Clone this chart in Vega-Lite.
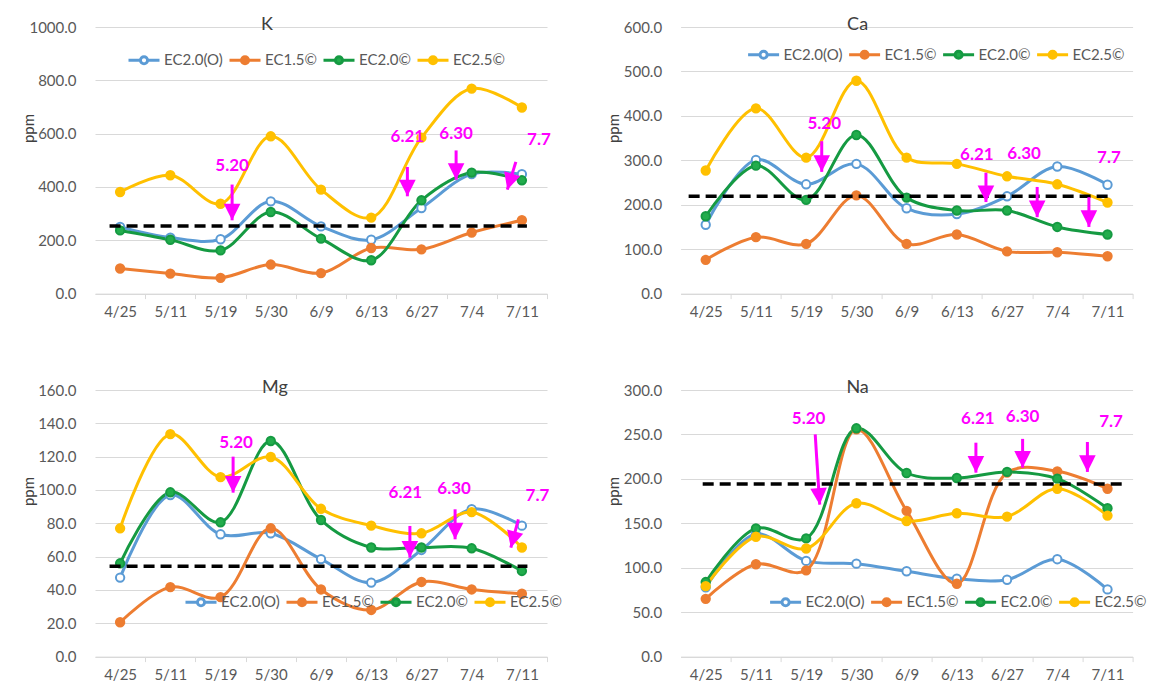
{
"$schema": "https://vega.github.io/schema/vega-lite/v6.json",
"padding": {"left": 21, "top": 16, "right": 5, "bottom": 5},
"columns": 2,
"bounds": "flush",
"spacing": {"row": 96, "column": 133.6},
"datasets": {
"series": [
{"p":"K","s":"EC2.0(O)","i":0,"d":"4/25","v":250},{"p":"K","s":"EC2.0(O)","i":1,"d":"5/11","v":210},{"p":"K","s":"EC2.0(O)","i":2,"d":"5/19","v":204},{"p":"K","s":"EC2.0(O)","i":3,"d":"5/30","v":346},{"p":"K","s":"EC2.0(O)","i":4,"d":"6/9","v":252},{"p":"K","s":"EC2.0(O)","i":5,"d":"6/13","v":202},{"p":"K","s":"EC2.0(O)","i":6,"d":"6/27","v":321},{"p":"K","s":"EC2.0(O)","i":7,"d":"7/4","v":448},{"p":"K","s":"EC2.0(O)","i":8,"d":"7/11","v":448},
{"p":"K","s":"EC1.5©","i":0,"d":"4/25","v":94},{"p":"K","s":"EC1.5©","i":1,"d":"5/11","v":75},{"p":"K","s":"EC1.5©","i":2,"d":"5/19","v":59},{"p":"K","s":"EC1.5©","i":3,"d":"5/30","v":109},{"p":"K","s":"EC1.5©","i":4,"d":"6/9","v":77},{"p":"K","s":"EC1.5©","i":5,"d":"6/13","v":171},{"p":"K","s":"EC1.5©","i":6,"d":"6/27","v":166},{"p":"K","s":"EC1.5©","i":7,"d":"7/4","v":229},{"p":"K","s":"EC1.5©","i":8,"d":"7/11","v":275},
{"p":"K","s":"EC2.0©","i":0,"d":"4/25","v":237},{"p":"K","s":"EC2.0©","i":1,"d":"5/11","v":202},{"p":"K","s":"EC2.0©","i":2,"d":"5/19","v":162},{"p":"K","s":"EC2.0©","i":3,"d":"5/30","v":306},{"p":"K","s":"EC2.0©","i":4,"d":"6/9","v":206},{"p":"K","s":"EC2.0©","i":5,"d":"6/13","v":125},{"p":"K","s":"EC2.0©","i":6,"d":"6/27","v":350},{"p":"K","s":"EC2.0©","i":7,"d":"7/4","v":454},{"p":"K","s":"EC2.0©","i":8,"d":"7/11","v":425},
{"p":"K","s":"EC2.5©","i":0,"d":"4/25","v":381},{"p":"K","s":"EC2.5©","i":1,"d":"5/11","v":444},{"p":"K","s":"EC2.5©","i":2,"d":"5/19","v":337},{"p":"K","s":"EC2.5©","i":3,"d":"5/30","v":590},{"p":"K","s":"EC2.5©","i":4,"d":"6/9","v":390},{"p":"K","s":"EC2.5©","i":5,"d":"6/13","v":285},{"p":"K","s":"EC2.5©","i":6,"d":"6/27","v":585},{"p":"K","s":"EC2.5©","i":7,"d":"7/4","v":769},{"p":"K","s":"EC2.5©","i":8,"d":"7/11","v":698},
{"p":"Ca","s":"EC2.0(O)","i":0,"d":"4/25","v":155},{"p":"Ca","s":"EC2.0(O)","i":1,"d":"5/11","v":301},{"p":"Ca","s":"EC2.0(O)","i":2,"d":"5/19","v":246},{"p":"Ca","s":"EC2.0(O)","i":3,"d":"5/30","v":292},{"p":"Ca","s":"EC2.0(O)","i":4,"d":"6/9","v":192},{"p":"Ca","s":"EC2.0(O)","i":5,"d":"6/13","v":179},{"p":"Ca","s":"EC2.0(O)","i":6,"d":"6/27","v":219},{"p":"Ca","s":"EC2.0(O)","i":7,"d":"7/4","v":286},{"p":"Ca","s":"EC2.0(O)","i":8,"d":"7/11","v":245},
{"p":"Ca","s":"EC1.5©","i":0,"d":"4/25","v":76},{"p":"Ca","s":"EC1.5©","i":1,"d":"5/11","v":127},{"p":"Ca","s":"EC1.5©","i":2,"d":"5/19","v":112},{"p":"Ca","s":"EC1.5©","i":3,"d":"5/30","v":221},{"p":"Ca","s":"EC1.5©","i":4,"d":"6/9","v":112},{"p":"Ca","s":"EC1.5©","i":5,"d":"6/13","v":133},{"p":"Ca","s":"EC1.5©","i":6,"d":"6/27","v":95},{"p":"Ca","s":"EC1.5©","i":7,"d":"7/4","v":93},{"p":"Ca","s":"EC1.5©","i":8,"d":"7/11","v":84},
{"p":"Ca","s":"EC2.0©","i":0,"d":"4/25","v":174},{"p":"Ca","s":"EC2.0©","i":1,"d":"5/11","v":288},{"p":"Ca","s":"EC2.0©","i":2,"d":"5/19","v":211},{"p":"Ca","s":"EC2.0©","i":3,"d":"5/30","v":357},{"p":"Ca","s":"EC2.0©","i":4,"d":"6/9","v":216},{"p":"Ca","s":"EC2.0©","i":5,"d":"6/13","v":187},{"p":"Ca","s":"EC2.0©","i":6,"d":"6/27","v":187},{"p":"Ca","s":"EC2.0©","i":7,"d":"7/4","v":150},{"p":"Ca","s":"EC2.0©","i":8,"d":"7/11","v":133},
{"p":"Ca","s":"EC2.5©","i":0,"d":"4/25","v":277},{"p":"Ca","s":"EC2.5©","i":1,"d":"5/11","v":417},{"p":"Ca","s":"EC2.5©","i":2,"d":"5/19","v":306},{"p":"Ca","s":"EC2.5©","i":3,"d":"5/30","v":479},{"p":"Ca","s":"EC2.5©","i":4,"d":"6/9","v":306},{"p":"Ca","s":"EC2.5©","i":5,"d":"6/13","v":292},{"p":"Ca","s":"EC2.5©","i":6,"d":"6/27","v":264},{"p":"Ca","s":"EC2.5©","i":7,"d":"7/4","v":246},{"p":"Ca","s":"EC2.5©","i":8,"d":"7/11","v":205},
{"p":"Mg","s":"EC2.0(O)","i":0,"d":"4/25","v":47.4},{"p":"Mg","s":"EC2.0(O)","i":1,"d":"5/11","v":97},{"p":"Mg","s":"EC2.0(O)","i":2,"d":"5/19","v":73.4},{"p":"Mg","s":"EC2.0(O)","i":3,"d":"5/30","v":74},{"p":"Mg","s":"EC2.0(O)","i":4,"d":"6/9","v":58.5},{"p":"Mg","s":"EC2.0(O)","i":5,"d":"6/13","v":44.4},{"p":"Mg","s":"EC2.0(O)","i":6,"d":"6/27","v":64},{"p":"Mg","s":"EC2.0(O)","i":7,"d":"7/4","v":88.5},{"p":"Mg","s":"EC2.0(O)","i":8,"d":"7/11","v":78.6},
{"p":"Mg","s":"EC1.5©","i":0,"d":"4/25","v":20.6},{"p":"Mg","s":"EC1.5©","i":1,"d":"5/11","v":41.7},{"p":"Mg","s":"EC1.5©","i":2,"d":"5/19","v":35.7},{"p":"Mg","s":"EC1.5©","i":3,"d":"5/30","v":77},{"p":"Mg","s":"EC1.5©","i":4,"d":"6/9","v":40.3},{"p":"Mg","s":"EC1.5©","i":5,"d":"6/13","v":28},{"p":"Mg","s":"EC1.5©","i":6,"d":"6/27","v":44.8},{"p":"Mg","s":"EC1.5©","i":7,"d":"7/4","v":40.3},{"p":"Mg","s":"EC1.5©","i":8,"d":"7/11","v":37.7},
{"p":"Mg","s":"EC2.0©","i":0,"d":"4/25","v":56},{"p":"Mg","s":"EC2.0©","i":1,"d":"5/11","v":98.6},{"p":"Mg","s":"EC2.0©","i":2,"d":"5/19","v":80.6},{"p":"Mg","s":"EC2.0©","i":3,"d":"5/30","v":129.4},{"p":"Mg","s":"EC2.0©","i":4,"d":"6/9","v":82},{"p":"Mg","s":"EC2.0©","i":5,"d":"6/13","v":65.5},{"p":"Mg","s":"EC2.0©","i":6,"d":"6/27","v":65.5},{"p":"Mg","s":"EC2.0©","i":7,"d":"7/4","v":65},{"p":"Mg","s":"EC2.0©","i":8,"d":"7/11","v":51.4},
{"p":"Mg","s":"EC2.5©","i":0,"d":"4/25","v":77},{"p":"Mg","s":"EC2.5©","i":1,"d":"5/11","v":133.5},{"p":"Mg","s":"EC2.5©","i":2,"d":"5/19","v":107.7},{"p":"Mg","s":"EC2.5©","i":3,"d":"5/30","v":119.8},{"p":"Mg","s":"EC2.5©","i":4,"d":"6/9","v":88.7},{"p":"Mg","s":"EC2.5©","i":5,"d":"6/13","v":78.6},{"p":"Mg","s":"EC2.5©","i":6,"d":"6/27","v":74},{"p":"Mg","s":"EC2.5©","i":7,"d":"7/4","v":86.7},{"p":"Mg","s":"EC2.5©","i":8,"d":"7/11","v":65.5},
{"p":"Na","s":"EC2.0(O)","i":0,"d":"4/25","v":78},{"p":"Na","s":"EC2.0(O)","i":1,"d":"5/11","v":138},{"p":"Na","s":"EC2.0(O)","i":2,"d":"5/19","v":107.7},{"p":"Na","s":"EC2.0(O)","i":3,"d":"5/30","v":104.6},{"p":"Na","s":"EC2.0(O)","i":4,"d":"6/9","v":96},{"p":"Na","s":"EC2.0(O)","i":5,"d":"6/13","v":87.6},{"p":"Na","s":"EC2.0(O)","i":6,"d":"6/27","v":86.5},{"p":"Na","s":"EC2.0(O)","i":7,"d":"7/4","v":109.6},{"p":"Na","s":"EC2.0(O)","i":8,"d":"7/11","v":75.6},
{"p":"Na","s":"EC1.5©","i":0,"d":"4/25","v":65},{"p":"Na","s":"EC1.5©","i":1,"d":"5/11","v":103.9},{"p":"Na","s":"EC1.5©","i":2,"d":"5/19","v":97.1},{"p":"Na","s":"EC1.5©","i":3,"d":"5/30","v":255.8},{"p":"Na","s":"EC1.5©","i":4,"d":"6/9","v":164},{"p":"Na","s":"EC1.5©","i":5,"d":"6/13","v":82},{"p":"Na","s":"EC1.5©","i":6,"d":"6/27","v":207},{"p":"Na","s":"EC1.5©","i":7,"d":"7/4","v":208.5},{"p":"Na","s":"EC1.5©","i":8,"d":"7/11","v":188.9},
{"p":"Na","s":"EC2.0©","i":0,"d":"4/25","v":83.9},{"p":"Na","s":"EC2.0©","i":1,"d":"5/11","v":144.3},{"p":"Na","s":"EC2.0©","i":2,"d":"5/19","v":133},{"p":"Na","s":"EC2.0©","i":3,"d":"5/30","v":256.9},{"p":"Na","s":"EC2.0©","i":4,"d":"6/9","v":206.6},{"p":"Na","s":"EC2.0©","i":5,"d":"6/13","v":201},{"p":"Na","s":"EC2.0©","i":6,"d":"6/27","v":207.8},{"p":"Na","s":"EC2.0©","i":7,"d":"7/4","v":200.2},{"p":"Na","s":"EC2.0©","i":8,"d":"7/11","v":167},
{"p":"Na","s":"EC2.5©","i":0,"d":"4/25","v":79.3},{"p":"Na","s":"EC2.5©","i":1,"d":"5/11","v":134.9},{"p":"Na","s":"EC2.5©","i":2,"d":"5/19","v":121.6},{"p":"Na","s":"EC2.5©","i":3,"d":"5/30","v":172.6},{"p":"Na","s":"EC2.5©","i":4,"d":"6/9","v":152.6},{"p":"Na","s":"EC2.5©","i":5,"d":"6/13","v":161.3},{"p":"Na","s":"EC2.5©","i":6,"d":"6/27","v":157.5},{"p":"Na","s":"EC2.5©","i":7,"d":"7/4","v":188.9},{"p":"Na","s":"EC2.5©","i":8,"d":"7/11","v":158.7}
],
"refs": [
{"p":"K","x1":-0.21,"x2":8.1,"y":254},
{"p":"Ca","x1":-0.34,"x2":8.12,"y":219},
{"p":"Mg","x1":-0.21,"x2":8.11,"y":54.2},
{"p":"Na","x1":-0.06,"x2":8.3,"y":194.2}
],
"arrows": [
{"p":"K","x1":2.23,"y1":409,"x2":2.23,"y2":275,"a":0},
{"p":"K","x1":5.72,"y1":475,"x2":5.72,"y2":365,"a":0},
{"p":"K","x1":6.69,"y1":537,"x2":6.69,"y2":427,"a":0},
{"p":"K","x1":7.88,"y1":494,"x2":7.71,"y2":390,"a":17},
{"p":"Ca","x1":2.31,"y1":343,"x2":2.31,"y2":274,"a":0},
{"p":"Ca","x1":5.58,"y1":272,"x2":5.58,"y2":206,"a":0},
{"p":"Ca","x1":6.6,"y1":240,"x2":6.6,"y2":172,"a":0},
{"p":"Ca","x1":7.63,"y1":217,"x2":7.63,"y2":150,"a":0},
{"p":"Mg","x1":2.25,"y1":120,"x2":2.25,"y2":98.4,"a":0},
{"p":"Mg","x1":5.77,"y1":78.4,"x2":5.77,"y2":59.4,"a":0},
{"p":"Mg","x1":6.67,"y1":88.4,"x2":6.67,"y2":70.4,"a":0},
{"p":"Mg","x1":7.93,"y1":82.4,"x2":7.78,"y2":65.4,"a":15},
{"p":"Na","x1":2.18,"y1":250,"x2":2.27,"y2":171,"a":356},
{"p":"Na","x1":5.38,"y1":240.7,"x2":5.38,"y2":207,"a":0},
{"p":"Na","x1":6.31,"y1":245,"x2":6.31,"y2":212.6,"a":0},
{"p":"Na","x1":7.6,"y1":241.5,"x2":7.6,"y2":207.8,"a":0}
],
"labels": [
{"p":"K","x":2.23,"y":478,"t":"5.20"},{"p":"K","x":5.72,"y":587,"t":"6.21"},{"p":"K","x":6.69,"y":600,"t":"6.30"},{"p":"K","x":8.34,"y":575,"t":"7.7"},
{"p":"Ca","x":2.36,"y":381,"t":"5.20"},{"p":"Ca","x":5.4,"y":311,"t":"6.21"},{"p":"Ca","x":6.34,"y":315,"t":"6.30"},{"p":"Ca","x":8.03,"y":306,"t":"7.7"},
{"p":"Mg","x":2.31,"y":128.4,"t":"5.20"},{"p":"Mg","x":5.68,"y":98.4,"t":"6.21"},{"p":"Mg","x":6.65,"y":100.4,"t":"6.30"},{"p":"Mg","x":8.31,"y":96.4,"t":"7.7"},
{"p":"Na","x":2.05,"y":267,"t":"5.20"},{"p":"Na","x":5.42,"y":267,"t":"6.21"},{"p":"Na","x":6.31,"y":269.6,"t":"6.30"},{"p":"Na","x":8.07,"y":264,"t":"7.7"}
]
},
"concat": [
{
"width": 452, "height": 266.6,
"title": {"text": "K", "dx": -54, "offset": -23, "baseline": "middle"},
"layer": [
{"data": {"name": "series"}, "transform": [{"filter": "datum.p === 'K'"}],
 "mark": {"type": "line", "interpolate": "catmull-rom", "strokeWidth": 3},
 "encoding": {
  "x": {"field": "i", "type": "quantitative", "scale": {"domain": [-0.5, 8.5], "nice": false, "zero": false}, "axis": {"values": [-1,0,1,2,3,4,5,6,7,8], "tickCount": 20, "labelExpr": "datum.value < 0 ? '' : ['4/25','5/11','5/19','5/30','6/9','6/13','6/27','7/4','7/11'][datum.value]", "tickOffset": 25.1, "labelOffset": -25.1, "title": null}},
  "y": {"field": "v", "type": "quantitative", "scale": {"domain": [0, 1000], "nice": false}, "axis": {"values": [0,200,400,600,800,1000], "tickCount": 20, "format": ".1f", "title": "ppm", "titleX": -67, "titleY": 101}},
  "stroke": {"field": "s", "type": "nominal", "scale": {"domain": ["EC2.0(O)","EC1.5©","EC2.0©","EC2.5©"], "range": ["#5B9BD5","#ED7D31","#159A42","#FFC000"]}, "legend": {"title": null, "orient": "none", "legendX": 32, "legendY": 16, "direction": "horizontal", "columns": 4, "symbolType": "M-1,0L-0.23,0M0.23,0L1,0M0.23,0A0.23,0.23,0,1,1,-0.23,0A0.23,0.23,0,1,1,0.23,0Z", "symbolSize": 961}},
  "strokeWidth": {"field": "s", "type": "nominal", "scale": {"domain": ["EC2.0(O)","EC1.5©","EC2.0©","EC2.5©"], "range": [3,3,3.8,3]}, "legend": null}
 }},
{"data": {"name": "series"}, "transform": [{"filter": "datum.p === 'K'"}],
 "mark": {"type": "point", "shape": "circle", "size": 70, "strokeWidth": 2, "opacity": 1, "filled": true},
 "encoding": {
  "x": {"field": "i", "type": "quantitative", "scale": {"domain": [-0.5, 8.5], "nice": false, "zero": false}},
  "y": {"field": "v", "type": "quantitative", "scale": {"domain": [0, 1000], "nice": false}},
  "stroke": {"field": "s", "type": "nominal", "scale": {"domain": ["EC2.0(O)","EC1.5©","EC2.0©","EC2.5©"], "range": ["#5B9BD5","#ED7D31","#159A42","#FFC000"]}, "legend": {"title": null, "orient": "none", "legendX": 32, "legendY": 16, "direction": "horizontal", "columns": 4, "symbolType": "M-1,0L-0.23,0M0.23,0L1,0M0.23,0A0.23,0.23,0,1,1,-0.23,0A0.23,0.23,0,1,1,0.23,0Z", "symbolSize": 961}},
  "fill": {"field": "s", "type": "nominal", "scale": {"domain": ["EC2.0(O)","EC1.5©","EC2.0©","EC2.5©"], "range": ["#FFFFFF","#ED7D31","#22AD4C","#FFC000"]}, "legend": {"title": null, "orient": "none", "legendX": 32, "legendY": 16, "direction": "horizontal", "columns": 4, "symbolType": "M-1,0L-0.23,0M0.23,0L1,0M0.23,0A0.23,0.23,0,1,1,-0.23,0A0.23,0.23,0,1,1,0.23,0Z", "symbolSize": 961}}
 }},
{"data": {"name": "refs"}, "transform": [{"filter": "datum.p === 'K'"}],
 "mark": {"type": "rule", "strokeDash": [11, 6], "strokeWidth": 3.5, "color": "#000000"},
 "encoding": {
  "x": {"field": "x1", "type": "quantitative", "scale": {"domain": [-0.5, 8.5], "nice": false, "zero": false}},
  "x2": {"field": "x2"},
  "y": {"field": "y", "type": "quantitative", "scale": {"domain": [0, 1000], "nice": false}}
 }},
{"data": {"name": "arrows"}, "transform": [{"filter": "datum.p === 'K'"}],
 "mark": {"type": "rule", "strokeWidth": 3, "color": "#FF00FF"},
 "encoding": {
  "x": {"field": "x1", "type": "quantitative", "scale": {"domain": [-0.5, 8.5], "nice": false, "zero": false}},
  "x2": {"field": "x2"},
  "y": {"field": "y1", "type": "quantitative", "scale": {"domain": [0, 1000], "nice": false}},
  "y2": {"field": "y2"}
 }},
{"data": {"name": "arrows"}, "transform": [{"filter": "datum.p === 'K'"}],
 "mark": {"type": "point", "shape": "M0,0L-1,-2L1,-2Z", "size": 276, "filled": true, "color": "#FF00FF", "strokeWidth": 0, "opacity": 1},
 "encoding": {
  "x": {"field": "x2", "type": "quantitative", "scale": {"domain": [-0.5, 8.5], "nice": false, "zero": false}},
  "y": {"field": "y2", "type": "quantitative", "scale": {"domain": [0, 1000], "nice": false}},
  "angle": {"field": "a", "type": "quantitative", "scale": null}
 }},
{"data": {"name": "labels"}, "transform": [{"filter": "datum.p === 'K'"}],
 "mark": {"type": "text", "fontSize": 17, "fontWeight": "bold", "color": "#FF00FF", "font": "Lato"},
 "encoding": {
  "x": {"field": "x", "type": "quantitative", "scale": {"domain": [-0.5, 8.5], "nice": false, "zero": false}},
  "y": {"field": "y", "type": "quantitative", "scale": {"domain": [0, 1000], "nice": false}},
  "text": {"field": "t", "type": "nominal"}
 }}
]
},
{
"width": 452, "height": 266.6,
"title": {"text": "Ca", "dx": -49, "offset": -23, "baseline": "middle"},
"layer": [
{"data": {"name": "series"}, "transform": [{"filter": "datum.p === 'Ca'"}],
 "mark": {"type": "line", "interpolate": "catmull-rom", "strokeWidth": 3},
 "encoding": {
  "x": {"field": "i", "type": "quantitative", "scale": {"domain": [-0.5, 8.5], "nice": false, "zero": false}, "axis": {"values": [-1,0,1,2,3,4,5,6,7,8], "tickCount": 20, "labelExpr": "datum.value < 0 ? '' : ['4/25','5/11','5/19','5/30','6/9','6/13','6/27','7/4','7/11'][datum.value]", "tickOffset": 25.1, "labelOffset": -25.1, "title": null}},
  "y": {"field": "v", "type": "quantitative", "scale": {"domain": [0, 600], "nice": false}, "axis": {"values": [0,100,200,300,400,500,600], "tickCount": 20, "format": ".1f", "title": "ppm", "titleX": -67, "titleY": 101}},
  "stroke": {"field": "s", "type": "nominal", "scale": {"domain": ["EC2.0(O)","EC1.5©","EC2.0©","EC2.5©"], "range": ["#5B9BD5","#ED7D31","#159A42","#FFC000"]}, "legend": {"title": null, "orient": "none", "legendX": 66, "legendY": 10.5, "direction": "horizontal", "columns": 4, "symbolType": "M-1,0L-0.23,0M0.23,0L1,0M0.23,0A0.23,0.23,0,1,1,-0.23,0A0.23,0.23,0,1,1,0.23,0Z", "symbolSize": 961}},
  "strokeWidth": {"field": "s", "type": "nominal", "scale": {"domain": ["EC2.0(O)","EC1.5©","EC2.0©","EC2.5©"], "range": [3,3,3.8,3]}, "legend": null}
 }},
{"data": {"name": "series"}, "transform": [{"filter": "datum.p === 'Ca'"}],
 "mark": {"type": "point", "shape": "circle", "size": 70, "strokeWidth": 2, "opacity": 1, "filled": true},
 "encoding": {
  "x": {"field": "i", "type": "quantitative", "scale": {"domain": [-0.5, 8.5], "nice": false, "zero": false}},
  "y": {"field": "v", "type": "quantitative", "scale": {"domain": [0, 600], "nice": false}},
  "stroke": {"field": "s", "type": "nominal", "scale": {"domain": ["EC2.0(O)","EC1.5©","EC2.0©","EC2.5©"], "range": ["#5B9BD5","#ED7D31","#159A42","#FFC000"]}, "legend": {"title": null, "orient": "none", "legendX": 66, "legendY": 10.5, "direction": "horizontal", "columns": 4, "symbolType": "M-1,0L-0.23,0M0.23,0L1,0M0.23,0A0.23,0.23,0,1,1,-0.23,0A0.23,0.23,0,1,1,0.23,0Z", "symbolSize": 961}},
  "fill": {"field": "s", "type": "nominal", "scale": {"domain": ["EC2.0(O)","EC1.5©","EC2.0©","EC2.5©"], "range": ["#FFFFFF","#ED7D31","#22AD4C","#FFC000"]}, "legend": {"title": null, "orient": "none", "legendX": 66, "legendY": 10.5, "direction": "horizontal", "columns": 4, "symbolType": "M-1,0L-0.23,0M0.23,0L1,0M0.23,0A0.23,0.23,0,1,1,-0.23,0A0.23,0.23,0,1,1,0.23,0Z", "symbolSize": 961}}
 }},
{"data": {"name": "refs"}, "transform": [{"filter": "datum.p === 'Ca'"}],
 "mark": {"type": "rule", "strokeDash": [11, 6], "strokeWidth": 3.5, "color": "#000000"},
 "encoding": {
  "x": {"field": "x1", "type": "quantitative", "scale": {"domain": [-0.5, 8.5], "nice": false, "zero": false}},
  "x2": {"field": "x2"},
  "y": {"field": "y", "type": "quantitative", "scale": {"domain": [0, 600], "nice": false}}
 }},
{"data": {"name": "arrows"}, "transform": [{"filter": "datum.p === 'Ca'"}],
 "mark": {"type": "rule", "strokeWidth": 3, "color": "#FF00FF"},
 "encoding": {
  "x": {"field": "x1", "type": "quantitative", "scale": {"domain": [-0.5, 8.5], "nice": false, "zero": false}},
  "x2": {"field": "x2"},
  "y": {"field": "y1", "type": "quantitative", "scale": {"domain": [0, 600], "nice": false}},
  "y2": {"field": "y2"}
 }},
{"data": {"name": "arrows"}, "transform": [{"filter": "datum.p === 'Ca'"}],
 "mark": {"type": "point", "shape": "M0,0L-1,-2L1,-2Z", "size": 276, "filled": true, "color": "#FF00FF", "strokeWidth": 0, "opacity": 1},
 "encoding": {
  "x": {"field": "x2", "type": "quantitative", "scale": {"domain": [-0.5, 8.5], "nice": false, "zero": false}},
  "y": {"field": "y2", "type": "quantitative", "scale": {"domain": [0, 600], "nice": false}},
  "angle": {"field": "a", "type": "quantitative", "scale": null}
 }},
{"data": {"name": "labels"}, "transform": [{"filter": "datum.p === 'Ca'"}],
 "mark": {"type": "text", "fontSize": 17, "fontWeight": "bold", "color": "#FF00FF", "font": "Lato"},
 "encoding": {
  "x": {"field": "x", "type": "quantitative", "scale": {"domain": [-0.5, 8.5], "nice": false, "zero": false}},
  "y": {"field": "y", "type": "quantitative", "scale": {"domain": [0, 600], "nice": false}},
  "text": {"field": "t", "type": "nominal"}
 }}
]
},
{
"width": 452, "height": 266.6,
"title": {"text": "Mg", "dx": -46, "offset": -23, "baseline": "middle"},
"layer": [
{"data": {"name": "series"}, "transform": [{"filter": "datum.p === 'Mg'"}],
 "mark": {"type": "line", "interpolate": "catmull-rom", "strokeWidth": 3},
 "encoding": {
  "x": {"field": "i", "type": "quantitative", "scale": {"domain": [-0.5, 8.5], "nice": false, "zero": false}, "axis": {"values": [-1,0,1,2,3,4,5,6,7,8], "tickCount": 20, "labelExpr": "datum.value < 0 ? '' : ['4/25','5/11','5/19','5/30','6/9','6/13','6/27','7/4','7/11'][datum.value]", "tickOffset": 25.1, "labelOffset": -25.1, "title": null}},
  "y": {"field": "v", "type": "quantitative", "scale": {"domain": [0, 160], "nice": false}, "axis": {"values": [0,20,40,60,80,100,120,140,160], "tickCount": 20, "format": ".1f", "title": "ppm", "titleX": -67, "titleY": 101}},
  "stroke": {"field": "s", "type": "nominal", "scale": {"domain": ["EC2.0(O)","EC1.5©","EC2.0©","EC2.5©"], "range": ["#5B9BD5","#ED7D31","#159A42","#FFC000"]}, "legend": {"title": null, "orient": "none", "legendX": 89, "legendY": 195, "direction": "horizontal", "columns": 4, "symbolType": "M-1,0L-0.23,0M0.23,0L1,0M0.23,0A0.23,0.23,0,1,1,-0.23,0A0.23,0.23,0,1,1,0.23,0Z", "symbolSize": 961}},
  "strokeWidth": {"field": "s", "type": "nominal", "scale": {"domain": ["EC2.0(O)","EC1.5©","EC2.0©","EC2.5©"], "range": [3,3,3.8,3]}, "legend": null}
 }},
{"data": {"name": "series"}, "transform": [{"filter": "datum.p === 'Mg'"}],
 "mark": {"type": "point", "shape": "circle", "size": 70, "strokeWidth": 2, "opacity": 1, "filled": true},
 "encoding": {
  "x": {"field": "i", "type": "quantitative", "scale": {"domain": [-0.5, 8.5], "nice": false, "zero": false}},
  "y": {"field": "v", "type": "quantitative", "scale": {"domain": [0, 160], "nice": false}},
  "stroke": {"field": "s", "type": "nominal", "scale": {"domain": ["EC2.0(O)","EC1.5©","EC2.0©","EC2.5©"], "range": ["#5B9BD5","#ED7D31","#159A42","#FFC000"]}, "legend": {"title": null, "orient": "none", "legendX": 89, "legendY": 195, "direction": "horizontal", "columns": 4, "symbolType": "M-1,0L-0.23,0M0.23,0L1,0M0.23,0A0.23,0.23,0,1,1,-0.23,0A0.23,0.23,0,1,1,0.23,0Z", "symbolSize": 961}},
  "fill": {"field": "s", "type": "nominal", "scale": {"domain": ["EC2.0(O)","EC1.5©","EC2.0©","EC2.5©"], "range": ["#FFFFFF","#ED7D31","#22AD4C","#FFC000"]}, "legend": {"title": null, "orient": "none", "legendX": 89, "legendY": 195, "direction": "horizontal", "columns": 4, "symbolType": "M-1,0L-0.23,0M0.23,0L1,0M0.23,0A0.23,0.23,0,1,1,-0.23,0A0.23,0.23,0,1,1,0.23,0Z", "symbolSize": 961}}
 }},
{"data": {"name": "refs"}, "transform": [{"filter": "datum.p === 'Mg'"}],
 "mark": {"type": "rule", "strokeDash": [11, 6], "strokeWidth": 3.5, "color": "#000000"},
 "encoding": {
  "x": {"field": "x1", "type": "quantitative", "scale": {"domain": [-0.5, 8.5], "nice": false, "zero": false}},
  "x2": {"field": "x2"},
  "y": {"field": "y", "type": "quantitative", "scale": {"domain": [0, 160], "nice": false}}
 }},
{"data": {"name": "arrows"}, "transform": [{"filter": "datum.p === 'Mg'"}],
 "mark": {"type": "rule", "strokeWidth": 3, "color": "#FF00FF"},
 "encoding": {
  "x": {"field": "x1", "type": "quantitative", "scale": {"domain": [-0.5, 8.5], "nice": false, "zero": false}},
  "x2": {"field": "x2"},
  "y": {"field": "y1", "type": "quantitative", "scale": {"domain": [0, 160], "nice": false}},
  "y2": {"field": "y2"}
 }},
{"data": {"name": "arrows"}, "transform": [{"filter": "datum.p === 'Mg'"}],
 "mark": {"type": "point", "shape": "M0,0L-1,-2L1,-2Z", "size": 276, "filled": true, "color": "#FF00FF", "strokeWidth": 0, "opacity": 1},
 "encoding": {
  "x": {"field": "x2", "type": "quantitative", "scale": {"domain": [-0.5, 8.5], "nice": false, "zero": false}},
  "y": {"field": "y2", "type": "quantitative", "scale": {"domain": [0, 160], "nice": false}},
  "angle": {"field": "a", "type": "quantitative", "scale": null}
 }},
{"data": {"name": "labels"}, "transform": [{"filter": "datum.p === 'Mg'"}],
 "mark": {"type": "text", "fontSize": 17, "fontWeight": "bold", "color": "#FF00FF", "font": "Lato"},
 "encoding": {
  "x": {"field": "x", "type": "quantitative", "scale": {"domain": [-0.5, 8.5], "nice": false, "zero": false}},
  "y": {"field": "y", "type": "quantitative", "scale": {"domain": [0, 160], "nice": false}},
  "text": {"field": "t", "type": "nominal"}
 }}
]
},
{
"width": 452, "height": 266.6,
"title": {"text": "Na", "dx": -49, "offset": -23, "baseline": "middle"},
"layer": [
{"data": {"name": "series"}, "transform": [{"filter": "datum.p === 'Na'"}],
 "mark": {"type": "line", "interpolate": "catmull-rom", "strokeWidth": 3},
 "encoding": {
  "x": {"field": "i", "type": "quantitative", "scale": {"domain": [-0.5, 8.5], "nice": false, "zero": false}, "axis": {"values": [-1,0,1,2,3,4,5,6,7,8], "tickCount": 20, "labelExpr": "datum.value < 0 ? '' : ['4/25','5/11','5/19','5/30','6/9','6/13','6/27','7/4','7/11'][datum.value]", "tickOffset": 25.1, "labelOffset": -25.1, "title": null}},
  "y": {"field": "v", "type": "quantitative", "scale": {"domain": [0, 300], "nice": false}, "axis": {"values": [0,50,100,150,200,250,300], "tickCount": 20, "format": ".1f", "title": "ppm", "titleX": -67, "titleY": 101}},
  "stroke": {"field": "s", "type": "nominal", "scale": {"domain": ["EC2.0(O)","EC1.5©","EC2.0©","EC2.5©"], "range": ["#5B9BD5","#ED7D31","#159A42","#FFC000"]}, "legend": {"title": null, "orient": "none", "legendX": 88, "legendY": 195, "direction": "horizontal", "columns": 4, "symbolType": "M-1,0L-0.23,0M0.23,0L1,0M0.23,0A0.23,0.23,0,1,1,-0.23,0A0.23,0.23,0,1,1,0.23,0Z", "symbolSize": 961}},
  "strokeWidth": {"field": "s", "type": "nominal", "scale": {"domain": ["EC2.0(O)","EC1.5©","EC2.0©","EC2.5©"], "range": [3,3,3.8,3]}, "legend": null}
 }},
{"data": {"name": "series"}, "transform": [{"filter": "datum.p === 'Na'"}],
 "mark": {"type": "point", "shape": "circle", "size": 70, "strokeWidth": 2, "opacity": 1, "filled": true},
 "encoding": {
  "x": {"field": "i", "type": "quantitative", "scale": {"domain": [-0.5, 8.5], "nice": false, "zero": false}},
  "y": {"field": "v", "type": "quantitative", "scale": {"domain": [0, 300], "nice": false}},
  "stroke": {"field": "s", "type": "nominal", "scale": {"domain": ["EC2.0(O)","EC1.5©","EC2.0©","EC2.5©"], "range": ["#5B9BD5","#ED7D31","#159A42","#FFC000"]}, "legend": {"title": null, "orient": "none", "legendX": 88, "legendY": 195, "direction": "horizontal", "columns": 4, "symbolType": "M-1,0L-0.23,0M0.23,0L1,0M0.23,0A0.23,0.23,0,1,1,-0.23,0A0.23,0.23,0,1,1,0.23,0Z", "symbolSize": 961}},
  "fill": {"field": "s", "type": "nominal", "scale": {"domain": ["EC2.0(O)","EC1.5©","EC2.0©","EC2.5©"], "range": ["#FFFFFF","#ED7D31","#22AD4C","#FFC000"]}, "legend": {"title": null, "orient": "none", "legendX": 88, "legendY": 195, "direction": "horizontal", "columns": 4, "symbolType": "M-1,0L-0.23,0M0.23,0L1,0M0.23,0A0.23,0.23,0,1,1,-0.23,0A0.23,0.23,0,1,1,0.23,0Z", "symbolSize": 961}}
 }},
{"data": {"name": "refs"}, "transform": [{"filter": "datum.p === 'Na'"}],
 "mark": {"type": "rule", "strokeDash": [11, 6], "strokeWidth": 3.5, "color": "#000000"},
 "encoding": {
  "x": {"field": "x1", "type": "quantitative", "scale": {"domain": [-0.5, 8.5], "nice": false, "zero": false}},
  "x2": {"field": "x2"},
  "y": {"field": "y", "type": "quantitative", "scale": {"domain": [0, 300], "nice": false}}
 }},
{"data": {"name": "arrows"}, "transform": [{"filter": "datum.p === 'Na'"}],
 "mark": {"type": "rule", "strokeWidth": 3, "color": "#FF00FF"},
 "encoding": {
  "x": {"field": "x1", "type": "quantitative", "scale": {"domain": [-0.5, 8.5], "nice": false, "zero": false}},
  "x2": {"field": "x2"},
  "y": {"field": "y1", "type": "quantitative", "scale": {"domain": [0, 300], "nice": false}},
  "y2": {"field": "y2"}
 }},
{"data": {"name": "arrows"}, "transform": [{"filter": "datum.p === 'Na'"}],
 "mark": {"type": "point", "shape": "M0,0L-1,-2L1,-2Z", "size": 276, "filled": true, "color": "#FF00FF", "strokeWidth": 0, "opacity": 1},
 "encoding": {
  "x": {"field": "x2", "type": "quantitative", "scale": {"domain": [-0.5, 8.5], "nice": false, "zero": false}},
  "y": {"field": "y2", "type": "quantitative", "scale": {"domain": [0, 300], "nice": false}},
  "angle": {"field": "a", "type": "quantitative", "scale": null}
 }},
{"data": {"name": "labels"}, "transform": [{"filter": "datum.p === 'Na'"}],
 "mark": {"type": "text", "fontSize": 17, "fontWeight": "bold", "color": "#FF00FF", "font": "Lato"},
 "encoding": {
  "x": {"field": "x", "type": "quantitative", "scale": {"domain": [-0.5, 8.5], "nice": false, "zero": false}},
  "y": {"field": "y", "type": "quantitative", "scale": {"domain": [0, 300], "nice": false}},
  "text": {"field": "t", "type": "nominal"}
 }}
]
}
],
"resolve": {
 "scale": {"stroke": "independent", "fill": "independent", "strokeWidth": "independent", "x": "independent", "y": "independent"},
 "legend": {"stroke": "independent", "fill": "independent"}
},
"config": {
 "font": "Lato",
 "view": {"stroke": null},
 "axis": {"labelFont": "Lato", "labelFontSize": 15, "labelColor": "#595959", "gridColor": "#D9D9D9", "gridWidth": 1, "domainColor": "#D9D9D9", "tickColor": "#D9D9D9", "titleFont": "Lato", "titleFontSize": 15, "titleFontWeight": "normal", "titleColor": "#404040", "labelOverlap": false},
 "axisX": {"grid": false, "tickSize": 5, "labelPadding": 6, "labelAngle": 0, "labelFlush": false, "labelOverlap": false, "labelBound": false},
 "axisY": {"grid": true, "domain": false, "ticks": false, "tickSize": 0, "labelPadding": 19, "titleAngle": 270, "titleBaseline": "middle", "titleAlign": "center", "labelOverlap": false},
 "title": {"font": "Lato", "fontSize": 18, "fontWeight": "normal", "color": "#404040", "anchor": "middle", "frame": "group"},
 "legend": {"labelFont": "Lato", "labelFontSize": 15, "labelColor": "#595959", "labelOffset": 3, "columnPadding": 0, "symbolStrokeWidth": 2.5, "symbolOpacity": 1, "padding": 0}
}
}
